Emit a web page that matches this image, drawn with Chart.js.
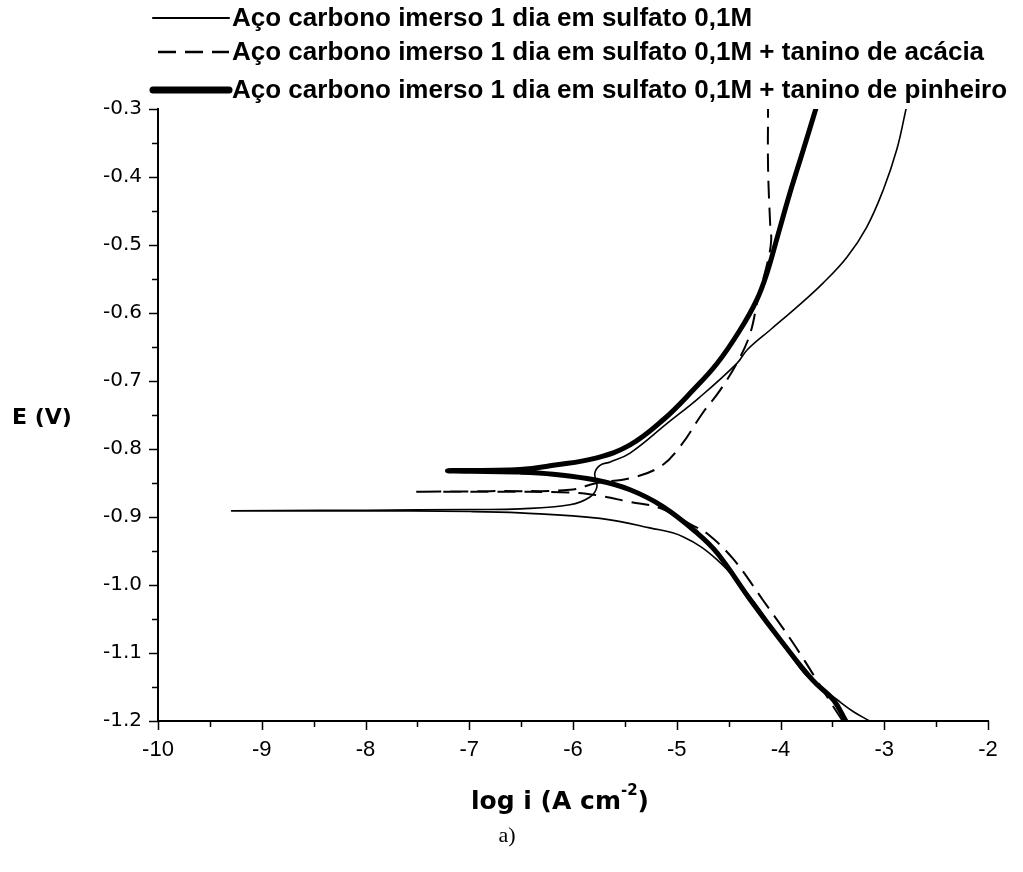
<!DOCTYPE html>
<html>
<head>
<meta charset="utf-8">
<script src="https://cdn.jsdelivr.net/npm/chart.js@4.4.0/dist/chart.umd.min.js"></script>
<style>
    html, body { margin: 0; padding: 0; background: #fff; }
    canvas { display: block; }
</style>
</head>
<body>
<canvas id="tafel-chart" width="1023" height="872"></canvas>
<script>
// Dados (log i em A cm-2, E em V)
const seriesNames = [
    'Aço carbono imerso 1 dia em sulfato 0,1M',
    'Aço carbono imerso 1 dia em sulfato 0,1M + tanino de acácia',
    'Aço carbono imerso 1 dia em sulfato 0,1M + tanino de pinheiro'
];

// sulfato: ramo catódico -> ponta -> ramo anódico
const sulfatoLogI = [-3.14, -3.30, -3.46, -3.74, -3.98, -4.29, -4.61, -4.94, -5.26, -5.74, -6.51, -6.99, -8.15, -9.29,
    -8.00, -6.99, -6.51, -6.03, -5.84, -5.77, -5.79, -5.74, -5.64, -5.45, -5.09, -4.78, -4.42, -4.32, -4.10, -3.84, -3.59, -3.36, -3.17, -3.01, -2.88, -2.79];
const sulfatoE = [-1.200, -1.186, -1.168, -1.135, -1.085, -1.018, -0.963, -0.929, -0.916, -0.902, -0.894, -0.892, -0.891, -0.891,
    -0.890, -0.889, -0.888, -0.882, -0.871, -0.856, -0.836, -0.824, -0.819, -0.806, -0.762, -0.724, -0.674, -0.654, -0.625, -0.591, -0.556, -0.518, -0.474, -0.419, -0.360, -0.300];

// tanino de acácia
const acaciaLogI = [-3.40, -3.52, -3.65, -3.88, -4.17, -4.46, -4.71, -4.84, -5.16, -5.45, -5.77, -6.03, -6.80, -7.52,
    -6.80, -6.03, -5.77, -5.45, -5.16, -4.97, -4.75, -4.58, -4.40, -4.29, -4.22, -4.12, -4.09, -4.10, -4.12, -4.12];
const acaciaE = [-1.200, -1.172, -1.140, -1.085, -1.022, -0.961, -0.924, -0.913, -0.887, -0.878, -0.868, -0.864, -0.863, -0.863,
    -0.862, -0.860, -0.850, -0.843, -0.826, -0.797, -0.747, -0.713, -0.668, -0.629, -0.581, -0.522, -0.493, -0.468, -0.385, -0.300];

// tanino de pinheiro
const pinheiroLogI = [-3.37, -3.49, -3.69, -3.98, -4.29, -4.61, -4.80, -5.13, -5.45, -5.77, -6.19, -6.51, -7.21,
    -6.51, -6.19, -5.77, -5.45, -5.13, -4.84, -4.61, -4.39, -4.23, -4.13, -4.03, -3.91, -3.78, -3.66];
const pinheiroE = [-1.200, -1.169, -1.140, -1.085, -1.022, -0.953, -0.924, -0.885, -0.860, -0.846, -0.837, -0.834, -0.832,
    -0.830, -0.824, -0.813, -0.794, -0.757, -0.713, -0.674, -0.625, -0.581, -0.541, -0.488, -0.424, -0.360, -0.300];

const xTickLabels = [-10, -9, -8, -7, -6, -5, -4, -3, -2];
const yTickLabels = [-0.3, -0.4, -0.5, -0.6, -0.7, -0.8, -0.9, -1.0, -1.1, -1.2];

const lineStyles = [
    { width: 1.6, dash: [], cap: 'round' },
    { width: 2, dash: [18, 9], cap: 'butt' },
    { width: 5, dash: [], cap: 'round' }
];

function toPoints(xs, ys) {
    return xs.map((x, i) => ({ x: x, y: ys[i] }));
}

const isLabelled = (list, v) => list.some(t => Math.abs(t - v) < 1e-6);

// Plugin: ticks maiores/menores, títulos dos eixos, legenda e "a)"
const decorPlugin = {
    id: 'decor',
    afterDraw(chart) {
        const ctx = chart.ctx;
        const xs = chart.scales.x, ys = chart.scales.y;
        const area = chart.chartArea;
        ctx.save();
        ctx.strokeStyle = '#000';
        ctx.lineWidth = 1.5;
        ctx.beginPath();
        xs.ticks.forEach(t => {
            const px = Math.round(xs.getPixelForValue(t.value)) + 0.5;
            const len = isLabelled(xTickLabels, t.value) ? 9 : 6;
            ctx.moveTo(px, area.bottom);
            ctx.lineTo(px, area.bottom + len);
        });
        ys.ticks.forEach(t => {
            const py = Math.round(ys.getPixelForValue(t.value)) + 0.5;
            const len = isLabelled(yTickLabels, t.value) ? 9 : 6;
            ctx.moveTo(area.left, py);
            ctx.lineTo(area.left - len, py);
        });
        ctx.stroke();

        ctx.fillStyle = '#000';
        ctx.textBaseline = 'middle';

        // título do eixo y
        ctx.font = 'bold 22px "DejaVu Sans", sans-serif';
        ctx.textAlign = 'left';
        ctx.fillText('E (V)', 12, 418);

        // título do eixo x com expoente
        const main = 'log i (A cm';
        const sup = '-2';
        const bigFont = 'bold 25px "DejaVu Sans", sans-serif';
        const supFont = 'bold 15px "DejaVu Sans", sans-serif';
        ctx.font = bigFont;
        const wMain = ctx.measureText(main).width;
        const wClose = ctx.measureText(')').width;
        ctx.font = supFont;
        const wSup = ctx.measureText(sup).width;
        const x0 = 560 - (wMain + wSup + wClose) / 2;
        ctx.font = bigFont;
        ctx.fillText(main, x0, 802);
        ctx.font = supFont;
        ctx.fillText(sup, x0 + wMain, 791);
        ctx.font = bigFont;
        ctx.fillText(')', x0 + wMain + wSup, 802);

        // rótulo "a)"
        ctx.font = '22px "Liberation Serif", "Times New Roman", serif';
        ctx.textAlign = 'center';
        ctx.fillText('a)', 507, 836);

        // legenda
        const rows = [18, 52, 90];
        ctx.textAlign = 'left';
        ctx.font = 'bold 26px "Liberation Sans", Arial, sans-serif';
        seriesNames.forEach((name, i) => {
            const st = lineStyles[i];
            ctx.beginPath();
            ctx.lineWidth = i === 2 ? 7 : st.width + 0.5;
            ctx.setLineDash(st.dash);
            ctx.lineCap = st.cap;
            ctx.moveTo(i === 1 ? 158 : 153, rows[i]);
            ctx.lineTo(229, rows[i]);
            ctx.stroke();
            ctx.setLineDash([]);
            ctx.fillText(name, 232, rows[i] + 1);
        });
        ctx.restore();
    }
};

const datasets = [
    toPoints(sulfatoLogI, sulfatoE),
    toPoints(acaciaLogI, acaciaE),
    toPoints(pinheiroLogI, pinheiroE)
].map((pts, i) => ({
    label: seriesNames[i],
    data: pts,
    showLine: true,
    borderColor: '#000',
    backgroundColor: '#000',
    borderWidth: lineStyles[i].width,
    borderDash: lineStyles[i].dash,
    borderCapStyle: lineStyles[i].cap,
    borderJoinStyle: 'round',
    pointRadius: 0,
    tension: 0.4,
    fill: false
}));

const ctx = document.getElementById('tafel-chart').getContext('2d');
const tafelChart = new Chart(ctx, {
    type: 'scatter',
    data: { datasets: datasets },
    plugins: [decorPlugin],
    options: {
        responsive: false,
        animation: false,
        layout: {
            padding: { top: 109, right: 35, left: 0, bottom: 0 }
        },
        plugins: {
            legend: { display: false },
            tooltip: { enabled: false }
        },
        scales: {
            x: {
                type: 'linear',
                min: -10,
                max: -2,
                afterFit: (scale) => { scale.height = 151; },
                grid: { display: false, drawTicks: false },
                border: { display: true, color: '#000', width: 2 },
                ticks: {
                    stepSize: 0.5,
                    autoSkip: false,
                    maxRotation: 0,
                    padding: 16,
                    color: '#000',
                    font: { family: '"Liberation Sans", Arial, sans-serif', size: 22 },
                    callback: (v) => isLabelled(xTickLabels, v) ? String(Math.round(v)) : ''
                }
            },
            y: {
                type: 'linear',
                min: -1.2,
                max: -0.3,
                afterFit: (scale) => { scale.width = 158; },
                grid: { display: false, drawTicks: false },
                border: { display: true, color: '#000', width: 2 },
                ticks: {
                    stepSize: 0.05,
                    autoSkip: false,
                    padding: 16,
                    color: '#000',
                    font: { family: '"DejaVu Sans", sans-serif', size: 20 },
                    callback: (v) => isLabelled(yTickLabels, v) ? v.toFixed(1) : ''
                }
            }
        }
    }
});
</script>
</body>
</html>
